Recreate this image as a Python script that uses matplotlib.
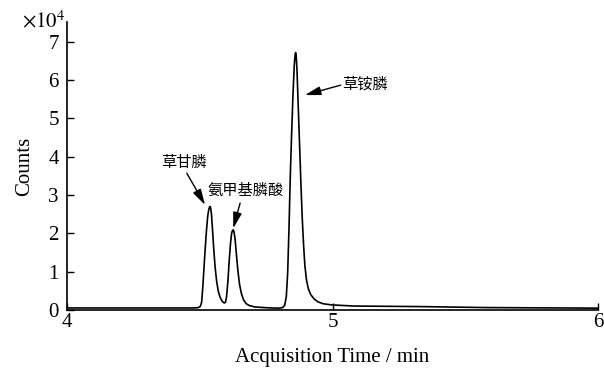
import matplotlib.pyplot as plt

plt.rcParams['font.family'] = ['Liberation Serif', 'Noto Sans CJK SC']
plt.rcParams['mathtext.fontset'] = 'stix'

# chromatogram trace (time in min, counts in 1e4)
time = [4.00, 4.30, 4.48, 4.495, 4.502, 4.507, 4.511, 4.515, 4.520, 4.525,
        4.530, 4.534, 4.537, 4.539, 4.541, 4.544, 4.548, 4.553, 4.558, 4.564,
        4.570, 4.577, 4.585, 4.592, 4.597, 4.601, 4.606, 4.611, 4.616, 4.620,
        4.623, 4.626, 4.629, 4.633, 4.638, 4.644, 4.650, 4.657, 4.665, 4.675,
        4.688, 4.705, 4.730, 4.770, 4.800, 4.812, 4.820, 4.826, 4.831, 4.836,
        4.841, 4.846, 4.851, 4.856, 4.859, 4.861, 4.863, 4.866, 4.871, 4.876,
        4.881, 4.886, 4.891, 4.896, 4.902, 4.909, 4.918, 4.930, 4.945, 4.965,
        4.997, 5.08, 5.33, 5.58, 6.00]
counts = [0.05, 0.05, 0.05, 0.06, 0.09, 0.20, 0.55, 1.00, 1.55, 2.05,
          2.45, 2.63, 2.69, 2.70, 2.66, 2.50, 2.10, 1.55, 1.10, 0.72,
          0.48, 0.32, 0.22, 0.18, 0.20, 0.35, 0.75, 1.30, 1.75, 2.00,
          2.07, 2.09, 2.04, 1.85, 1.45, 1.00, 0.66, 0.42, 0.26, 0.16,
          0.11, 0.08, 0.065, 0.05, 0.045, 0.06, 0.12, 0.35, 0.95, 2.10,
          3.50, 4.60, 5.60, 6.40, 6.66, 6.72, 6.65, 6.30, 5.31, 4.30,
          3.30, 2.40, 1.70, 1.15, 0.78, 0.55, 0.40, 0.29, 0.21, 0.16,
          0.13, 0.10, 0.086, 0.06, 0.045]

labels = ['草甘膦', '氨甲基膦酸', '草铵膦']
label_xy = [(4.44, 3.84), (4.674, 3.13), (5.122, 5.89)]
arrow_tail = [(4.451, 3.57), (4.652, 2.79), (5.031, 5.87)]
arrow_head = [(4.52, 2.74), (4.626, 2.13), (4.896, 5.61)]

fig = plt.figure(figsize=(6.04, 3.72), dpi=100)
ax = fig.add_axes([0.111, 0.167, 0.879, 0.774])

ax.plot(time, counts, color='black', linewidth=1.2)

for lab, xy, tail, head in zip(labels, label_xy, arrow_tail, arrow_head):
    ax.text(xy[0], xy[1], lab, ha='center', va='center', fontsize=11,
            family=['Noto Sans CJK SC'])
    ax.annotate('', xy=head, xytext=tail,
                arrowprops=dict(arrowstyle='-|>,head_length=0.8,head_width=0.22',
                                color='black', lw=1.0,
                                mutation_scale=12, shrinkA=0, shrinkB=0))

ax.set_xlim(4, 6)
ax.set_ylim(0, 7.52)
ax.set_xticks([4, 5, 6])
ax.set_yticks(range(8))
ax.spines['top'].set_visible(False)
ax.spines['right'].set_visible(False)
ax.spines['left'].set_linewidth(1.2)
ax.spines['bottom'].set_linewidth(1.2)
ax.tick_params(direction='in', length=5, width=1, labelsize=15)
ax.tick_params(axis='x', pad=2)
ax.tick_params(axis='y', pad=6)

ax.set_xlabel('Acquisition Time / min', fontsize=15, labelpad=12)
ax.set_ylabel('Counts', fontsize=15, labelpad=10)
ax.text(-0.085, 1.0, r'$\times 10^4$', transform=ax.transAxes, fontsize=15,
        ha='left', va='center')

fig.savefig('out.png', dpi=100)
